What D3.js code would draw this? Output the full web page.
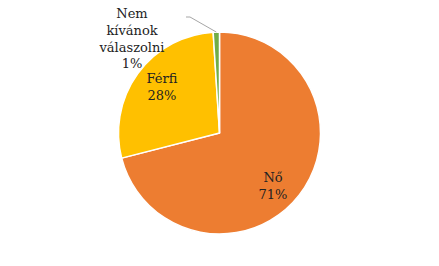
<!DOCTYPE html>
<html><head><meta charset="utf-8">
<script src="https://cdn.jsdelivr.net/npm/d3@7"></script>
<style>html,body{margin:0;padding:0;background:#fff;}svg{display:block;}</style>
</head><body>
<svg id="c" width="439" height="266"></svg>
<script>
const categories = ["Nő", "Férfi", "Nem kívánok válaszolni"];
const values = [71, 28, 1];
const labelLines = [["Nő", "71%"], ["Férfi", "28%"], ["Nem", "kívánok", "válaszolni", "1%"]];
const colors = ["#ED7D31", "#FFC000", "#70AD47"];

const svg = d3.select("#c");
const cx = 219.5, cy = 133, r = 101;
const g = svg.append("g").attr("transform", `translate(${cx},${cy})`);
const pie = d3.pie().sort(null).value(d => d)(values);
const arc = d3.arc().innerRadius(0).outerRadius(r);
g.selectAll("path").data(pie).join("path")
  .attr("d", arc)
  .attr("fill", (d, i) => colors[i])
  .attr("stroke", "#fff").attr("stroke-width", 1.5).attr("stroke-linejoin", "round");

const labelPos = [{x: 273, y: 181.5}, {x: 162, y: 83}, {x: 132, y: 18}];
const lh = [17.5, 17, 16.8];
labelLines.forEach((lines, i) => {
  const t = svg.append("text")
    .attr("text-anchor", "middle")
    .style("font-family", "'DejaVu Serif', serif")
    .attr("font-size", 13).attr("fill", "#222");
  lines.forEach((s, j) => {
    t.append("tspan").attr("x", labelPos[i].x).attr("y", labelPos[i].y + j * lh[i]).text(s);
  });
});

const mid = (pie[2].startAngle + pie[2].endAngle) / 2;
const ex = cx + Math.sin(mid) * r, ey = cy - Math.cos(mid) * r;
svg.append("polyline")
  .attr("points", `186,17 190,17 ${ex},${ey}`)
  .attr("fill", "none").attr("stroke", "#A6A6A6").attr("stroke-width", 1);
</script>
</body></html>
